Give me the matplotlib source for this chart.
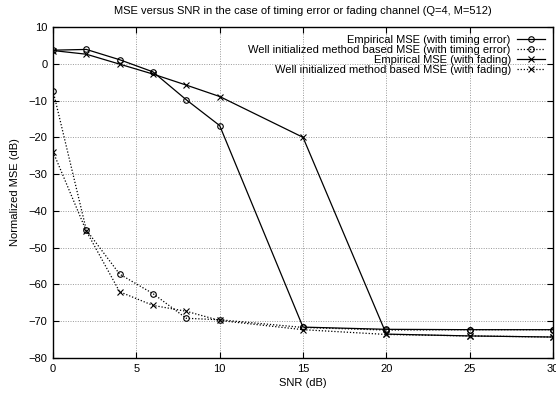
import matplotlib
matplotlib.use('Agg')
import matplotlib.pyplot as plt

plt.rcParams['font.family'] = ['Liberation Sans', 'DejaVu Sans']
plt.rcParams['font.size'] = 8

# SNR (dB)
snr = [0, 2, 4, 6, 8, 10, 15, 20, 25, 30]

# Normalized MSE (dB)
emp_timing = [3.7, 3.9, 1.1, -2.2, -9.8, -16.8, -71.6, -72.2, -72.3, -72.3]
well_timing = [-7.3, -45.2, -57.2, -62.5, -69.2, -69.6, -71.7, -72.4, -72.3, -72.3]
emp_fading = [3.6, 2.6, -0.1, -2.8, -5.8, -8.9, -20.0, -73.5, -74.0, -74.3]
well_fading = [-23.9, -45.5, -62.0, -65.7, -67.3, -69.8, -72.3, -73.6, -74.0, -74.3]

labels = [
    "Empirical MSE (with timing error)",
    "Well initialized method based MSE (with timing error)",
    "Empirical MSE (with fading)",
    "Well initialized method based MSE (with fading)",
]

fig = plt.figure(figsize=(5.56, 3.96), dpi=100)
ax = fig.add_axes([53 / 556, 1 - 358 / 396, 500 / 556, 331 / 396])

ax.plot(snr, emp_timing, color='black', lw=0.9, ls='-', marker='o', ms=4,
        mfc='none', mew=0.8, label=labels[0])
ax.plot(snr, well_timing, color='black', lw=0.9, ls=(0, (1, 1.5)), marker='o', ms=4,
        mfc='none', mew=0.8, label=labels[1])
ax.plot(snr, emp_fading, color='black', lw=0.9, ls='-', marker='x', ms=4,
        mew=0.8, label=labels[2])
ax.plot(snr, well_fading, color='black', lw=0.9, ls=(0, (1, 1.5)), marker='x', ms=4,
        mew=0.8, label=labels[3])

ax.set_xlim(0, 30)
ax.set_ylim(-80, 10)
ax.set_xticks(range(0, 31, 5))
ax.set_yticks(range(-80, 11, 10))
ax.tick_params(direction='in', top=True, right=True, length=4, width=0.8,
               labelsize=8, pad=4)
ax.grid(True, color='#999999', ls=(0, (1, 1.5)), lw=0.7)
for s in ax.spines.values():
    s.set_linewidth(1.0)

ax.set_title('MSE versus SNR in the case of timing error or fading channel (Q=4, M=512)',
             fontsize=8, pad=9)
ax.set_xlabel('SNR (dB)', fontsize=8, labelpad=3)
ax.set_ylabel('Normalized MSE (dB)', fontsize=8, labelpad=6)

ax.legend(loc='upper right', frameon=False, markerfirst=False, fontsize=8,
          handlelength=2.5, handletextpad=0.6, labelspacing=0.0,
          borderaxespad=0.3, alignment='right')

fig.savefig('out.png', dpi=100)
